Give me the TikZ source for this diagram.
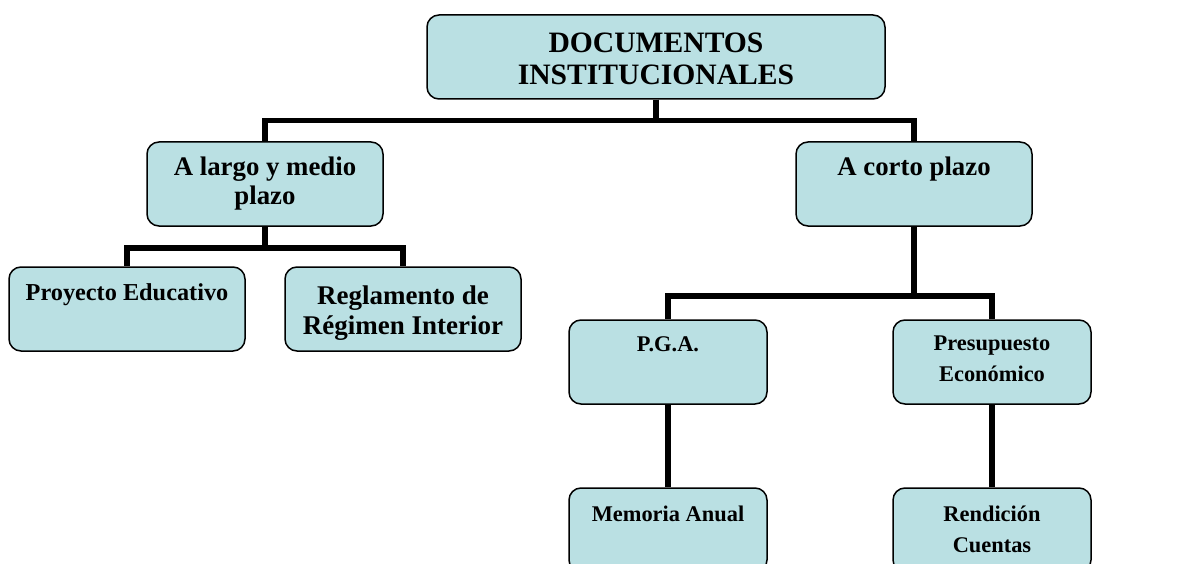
\documentclass[tikz,border=0pt]{standalone}
\usepackage{fontspec}
\setmainfont{Liberation Serif}
\usepackage{xcolor}
\definecolor{cajafill}{RGB}{186,224,227}

\tikzset{
  caja/.style={draw=black, line width=1.5pt, fill=cajafill, rounded corners=12pt,
    minimum width=#1, minimum height=84pt, inner sep=0pt},
  texto/.style={anchor=north, align=center, inner sep=0pt},
  linea/.style={line width=5.5pt},
}

\begin{document}
\begin{tikzpicture}[x=1pt, y=-1pt]
        \useasboundingbox (0,0) rectangle (1182,564);

        % Cajas
        \node[caja=458] (docs) at (656,57) {};
        \node[caja=236] (largo) at (265,184) {};
        \node[caja=236] (corto) at (914,184) {};
        \node[caja=236] (proyecto) at (127,309) {};
        \node[caja=236] (reglamento) at (403,309) {};
        \node[caja=198] (pga) at (668,362) {};
        \node[caja=198] (presupuesto) at (992,362) {};
        \node[caja=198] (memoria) at (668,530) {};
        \node[caja=198] (rendicion) at (992,530) {};

        % Textos
        \node[texto, font=\bfseries\fontsize{29.6}{32}\selectfont, yshift=-18]
            (docs-t) at (docs.north) {DOCUMENTOS\\INSTITUCIONALES};
        \node[texto, font=\bfseries\fontsize{26.8}{29}\selectfont, yshift=-15.5]
            (largo-t) at (largo.north) {A largo y medio\\plazo};
        \node[texto, font=\bfseries\fontsize{26.8}{29}\selectfont, yshift=-15.5]
            (corto-t) at (corto.north) {A corto plazo};
        \node[texto, font=\bfseries\fontsize{24.3}{28}\selectfont, yshift=-17.5]
            (proyecto-t) at (proyecto.north) {Proyecto Educativo};
        \node[texto, font=\bfseries\fontsize{27}{30}\selectfont, yshift=-19]
            (reglamento-t) at (reglamento.north) {Reglamento de\\Régimen Interior};
        \node[texto, font=\bfseries\fontsize{22.4}{31}\selectfont, yshift=-17]
            (pga-t) at (pga.north) {P.G.A.};
        \node[texto, font=\bfseries\fontsize{22.4}{31}\selectfont, yshift=-16.5]
            (presupuesto-t) at (presupuesto.north) {Presupuesto\\Económico};
        \node[texto, font=\bfseries\fontsize{22.4}{31}\selectfont, yshift=-18.5]
            (memoria-t) at (memoria.north) {Memoria Anual};
        \node[texto, font=\bfseries\fontsize{22.4}{31}\selectfont, yshift=-18]
            (rendicion-t) at (rendicion.north) {Rendición\\Cuentas};

        % Conectores
        \draw[linea] (docs.south) -- ++(0,21) -| (largo.north);
        \draw[linea] (docs.south) -- ++(0,21) -| (corto.north);
        \draw[linea] (largo.south) -- ++(0,21) -| (proyecto.north);
        \draw[linea] (largo.south) -- ++(0,21) -| (reglamento.north);
        \draw[linea] (corto.south) -- ++(0,69) -| (pga.north);
        \draw[linea] (corto.south) -- ++(0,69) -| (presupuesto.north);
        \draw[linea] (pga.south) -- (memoria.north);
        \draw[linea] (presupuesto.south) -- (rendicion.north);
    \end{tikzpicture}
\end{document}
